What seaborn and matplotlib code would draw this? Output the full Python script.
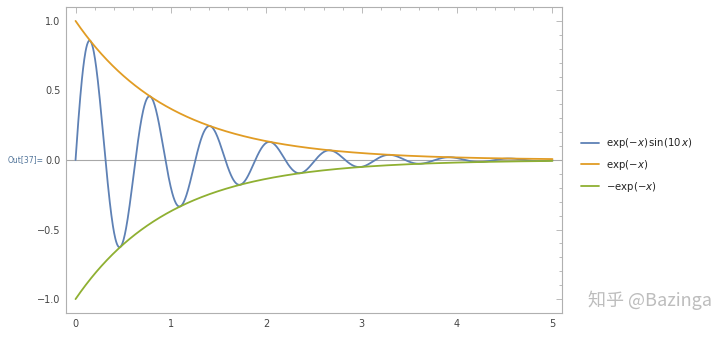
import numpy as np
import pandas as pd
import matplotlib
matplotlib.use("Agg")
import matplotlib.pyplot as plt
from matplotlib.ticker import MultipleLocator
from matplotlib.lines import Line2D
import seaborn as sns

# Series as defined by the chart's legend, sampled on the plotted range 0..5
x_start, x_end, n_samples = 0.0, 5.0, 1200
series_names = ["exp(-x) sin(10 x)", "exp(-x)", "-exp(-x)"]
legend_labels = [r"$\mathrm{exp}(-x)\,\mathrm{sin}(10\,x)$",
                 r"$\mathrm{exp}(-x)$",
                 r"$-\mathrm{exp}(-x)$"]
x_ticks = [0, 1, 2, 3, 4, 5]
y_ticks = [-1.0, -0.5, 0.0, 0.5, 1.0]
y_tick_labels = ["\u22121.0", "\u22120.5", "0.0", "0.5", "1.0"]
colors = ["#5E81B5", "#E19C24", "#8FB032"]

xs = np.linspace(x_start, x_end, n_samples)
curves = {
    series_names[0]: np.exp(-xs) * np.sin(10 * xs),
    series_names[1]: np.exp(-xs),
    series_names[2]: -np.exp(-xs),
}
df = pd.concat([pd.DataFrame({"x": xs, "y": v, "series": k}) for k, v in curves.items()],
               ignore_index=True)

sns.set_theme(style="white")
plt.rcParams["font.family"] = ["DejaVu Sans"]
plt.rcParams["mathtext.fontset"] = "dejavusans"

fig = plt.figure(figsize=(7.2, 3.38), dpi=100)
ax = fig.add_axes([66/720, 1-313/338, (562-66)/720, (313-7)/338])

ax.axhline(0, color="#a8a8a8", lw=0.8, zorder=1)
sns.lineplot(data=df, x="x", y="y", hue="series", hue_order=series_names,
             palette=colors, ax=ax, lw=1.3, legend=False, sort=False,
             estimator=None, zorder=3)

ax.set_xlim(-0.1, 5.1)
ax.set_ylim(-1.1, 1.1)
ax.set_xlabel("")
ax.set_ylabel("")
ax.set_xticks(x_ticks)
ax.set_xticklabels([str(t) for t in x_ticks])
ax.set_yticks(y_ticks)
ax.set_yticklabels(y_tick_labels)
ax.xaxis.set_minor_locator(MultipleLocator(0.2))
ax.yaxis.set_minor_locator(MultipleLocator(0.1))
ax.tick_params(which="both", direction="in", top=True, right=True,
               color="#b0b0b0", width=0.6)
ax.tick_params(which="major", length=4, labelsize=7, labelcolor="#444444", pad=4)
ax.tick_params(which="minor", length=2)
for s in ax.spines.values():
    s.set_color("#b0b0b0")
    s.set_linewidth(0.8)

# legend
handles = [Line2D([0], [0], color=c, lw=1.3) for c in colors]
fig.legend(handles, legend_labels, loc="center left",
           bbox_to_anchor=(574/720, 1-165/338),
           frameon=False, fontsize=7.3, handlelength=1.8, handletextpad=0.7,
           labelspacing=0.75, labelcolor="#222222", borderpad=0.2)

fig.text(8/720, 1-160/338, "Out[37]=", fontsize=5.5, color="#52759a",
         va="center", ha="left")
fig.text(712/720, 1-300/338, "知乎 @Bazinga", fontsize=13, color="#bdbdbd",
         ha="right", va="center", family=["Noto Sans CJK SC", "DejaVu Sans"])

fig.savefig("out.png", dpi=100)
